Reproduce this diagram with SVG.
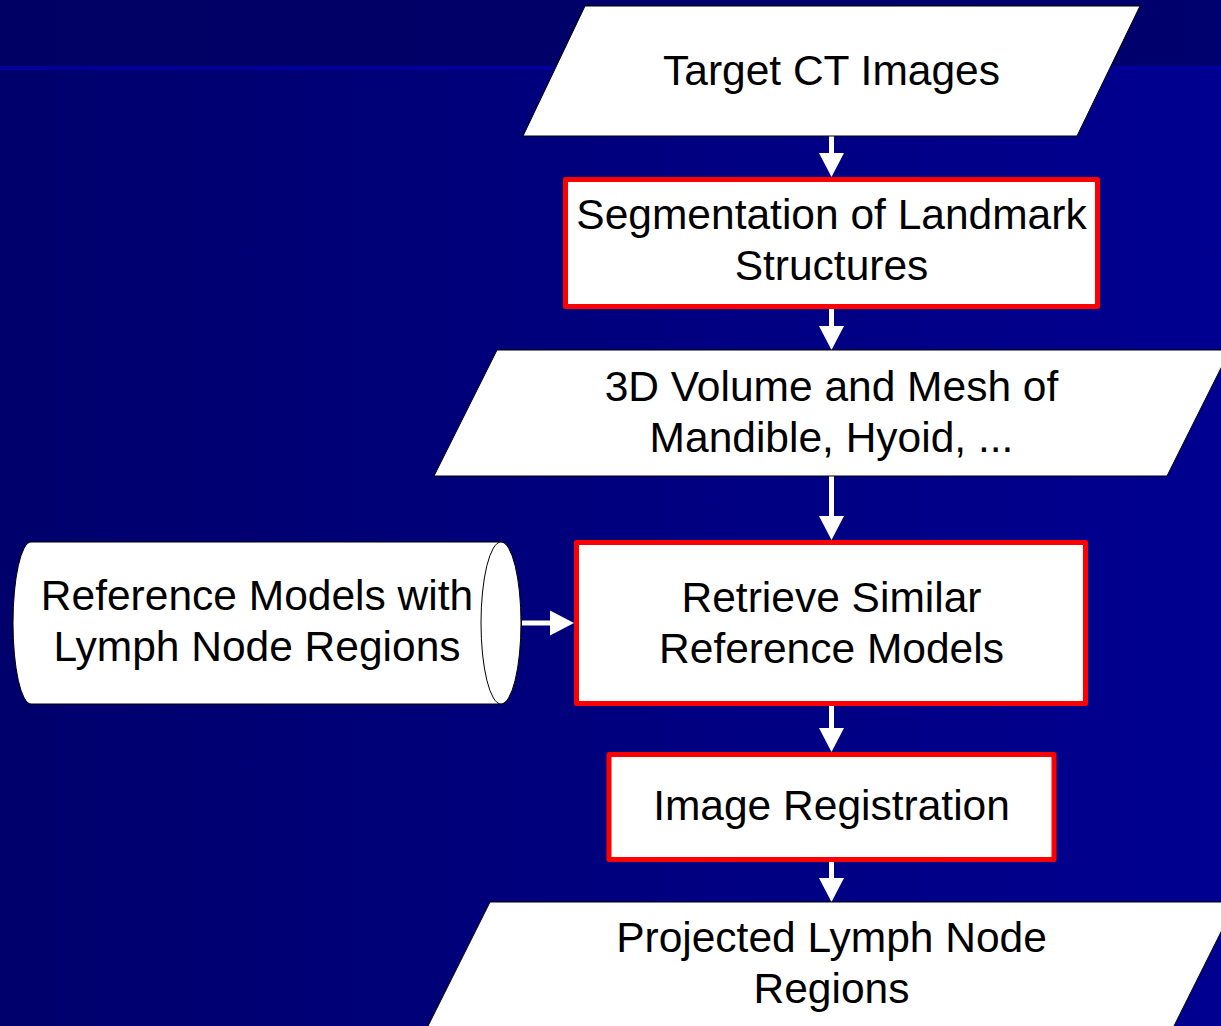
<svg xmlns="http://www.w3.org/2000/svg" width="1221" height="1026" viewBox="0 0 1221 1026">
  <defs>
    <linearGradient id="bgTop" x1="0" y1="0" x2="1" y2="0">
      <stop offset="0" stop-color="#000064"/>
      <stop offset="1" stop-color="#00006E"/>
    </linearGradient>
    <linearGradient id="bgLow" x1="0" y1="0" x2="1" y2="0">
      <stop offset="0" stop-color="#00006C"/>
      <stop offset="1" stop-color="#000090"/>
    </linearGradient>
    <style>
      .io { fill: #FFFFFF; stroke: #000000; stroke-width: 1; }
      .proc { fill: #FFFFFF; stroke: #FF0000; stroke-width: 5; stroke-linejoin: round; }
      .store { fill: #FFFFFF; stroke: #000000; stroke-width: 1; }
      .lbl { font-family: "Liberation Sans", Arial, sans-serif; font-size: 42.5px; fill: #000000; text-anchor: middle; }
      .conn { stroke: #FFFFFF; stroke-width: 5; fill: none; }
      .head { fill: #FFFFFF; }
    </style>
  </defs>

  <rect x="0" y="0" width="1221" height="1026" fill="url(#bgLow)"/>
  <rect x="0" y="0" width="1221" height="66" fill="url(#bgTop)"/>
  <rect x="0" y="66" width="1221" height="4" fill="#00009A"/>

  <g id="connectors">
    <line class="conn" x1="831.5" y1="136" x2="831.5" y2="155"/>
    <polygon class="head" points="819,153 844,153 831.5,177"/>
    <line class="conn" x1="831.5" y1="309" x2="831.5" y2="328"/>
    <polygon class="head" points="819,326 844,326 831.5,350"/>
    <line class="conn" x1="831.5" y1="476" x2="831.5" y2="518"/>
    <polygon class="head" points="819,516 844,516 831.5,540"/>
    <line class="conn" x1="522" y1="623" x2="552" y2="623"/>
    <polygon class="head" points="550,610.5 550,635.5 574,623"/>
    <line class="conn" x1="831.5" y1="706" x2="831.5" y2="730"/>
    <polygon class="head" points="819,728 844,728 831.5,752"/>
    <line class="conn" x1="831.5" y1="862" x2="831.5" y2="880"/>
    <polygon class="head" points="819,878 844,878 831.5,902"/>
  </g>

  <g id="target-ct">
    <polygon class="io" points="585,6 1140,6 1077,136 523,136"/>
    <text class="lbl" x="831.5" y="85">Target CT Images</text>
  </g>

  <g id="segmentation">
    <rect class="proc" x="565.5" y="179.5" width="532" height="127"/>
    <text class="lbl" x="831.5" y="229">Segmentation of Landmark</text>
    <text class="lbl" x="831.5" y="280">Structures</text>
  </g>

  <g id="volume-mesh">
    <polygon class="io" points="497,350 1230,350 1167,476 434,476"/>
    <text class="lbl" x="831.5" y="401">3D Volume and Mesh of</text>
    <text class="lbl" x="831.5" y="452">Mandible, Hyoid, ...</text>
  </g>

  <g id="reference-models">
    <path class="store" d="M31,542 L501,542 A20,81 0 0 1 501,704 L31,704 A18,81 0 0 1 31,542 Z"/>
    <path class="store" fill="none" d="M501,542 A20,81 0 0 0 501,704"/>
    <text class="lbl" x="257" y="610">Reference Models with</text>
    <text class="lbl" x="257" y="661">Lymph Node Regions</text>
  </g>

  <g id="retrieve">
    <rect class="proc" x="576.5" y="542.5" width="509" height="161"/>
    <text class="lbl" x="831.5" y="612">Retrieve Similar</text>
    <text class="lbl" x="831.5" y="663">Reference Models</text>
  </g>

  <g id="registration">
    <rect class="proc" x="609" y="754.5" width="445" height="105"/>
    <text class="lbl" x="831.5" y="820">Image Registration</text>
  </g>

  <g id="projected">
    <polygon class="io" points="490,902 1236,902 1173,1028 427,1028"/>
    <text class="lbl" x="831.5" y="952">Projected Lymph Node</text>
    <text class="lbl" x="831.5" y="1003">Regions</text>
  </g>
</svg>
